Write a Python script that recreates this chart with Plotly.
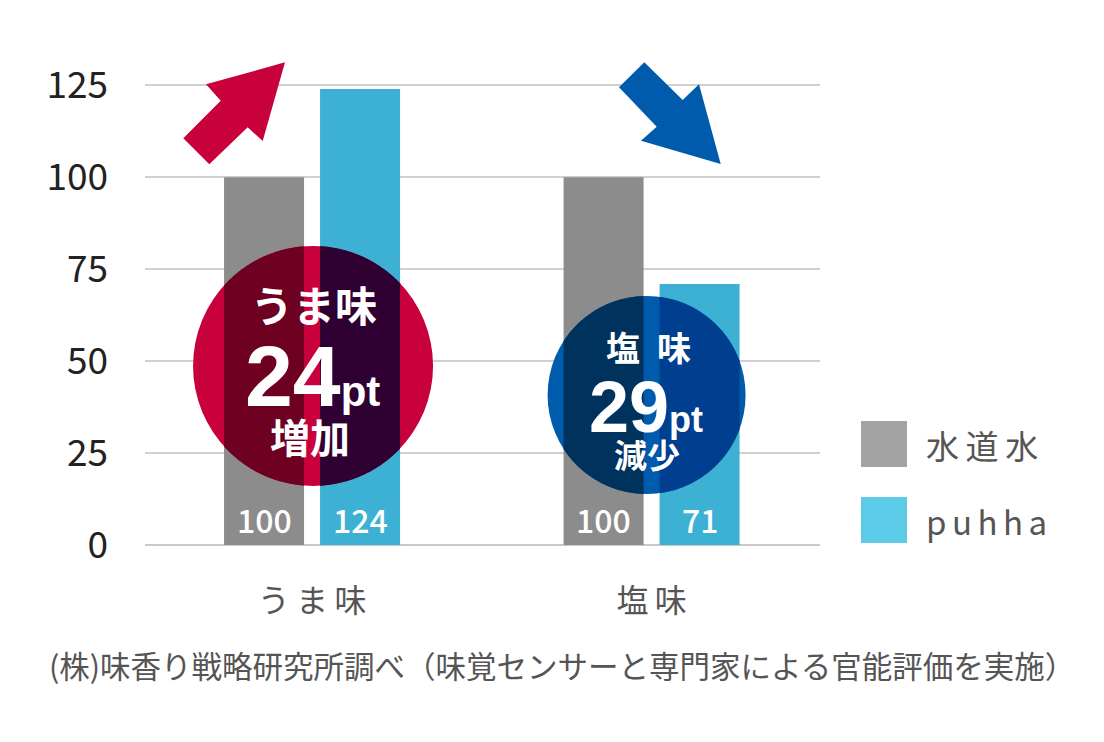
import plotly.graph_objects as go
import numpy as np

# ---------------- data ----------------
categories = ["うま味", "塩味"]
series_names = ["水道水", "puhha"]
tap_water = [100, 100]
puhha = [124, 71]
tap_labels = ["100", "100"]
puhha_labels = ["124", "71"]
y_ticks = [0, 25, 50, 75, 100, 125]
circle_titles = ["うま味", "塩\u2002味"]
circle_values = ["24", "29"]
circle_words = ["増加", "減少"]
circle_centers_y = [48.7, 40.8]   # data units (y value of circle centres)
footnote = "(株)味香り戦略研究所調べ（味覚センサーと専門家による官能評価を実施）"

# ---------------- styles / layout geometry ----------------
W_FIG, H_FIG = 1104, 742
L, R, T, B = 145, 284, 67, 197
PW = W_FIG - L - R
PH = H_FIG - T - B
Y_MAX = 130
X_RANGE = [-0.492, 1.496]
UX = PW / (X_RANGE[1] - X_RANGE[0])   # px per x unit
UY = PH / Y_MAX                       # px per y unit

GRAY = (140, 140, 140)
BLUE = (60, 177, 212)
RED_C = (200, 0, 60)
BLUE_C = (0, 91, 172)
LEG_GRAY = "#A3A3A3"
LEG_BLUE = "#5BCBE8"
TXT = "#555555"

BAR_W_PX = 80
OFFS_PX = [-88, 8]          # left edge offsets from group centre (px)

JP = "Noto Sans CJK JP"
LAT = "Liberation Sans"


def hexc(c):
    return "#%02X%02X%02X" % tuple(int(round(v)) for v in c)


def multiply(a, b):
    return tuple(x * y / 255.0 for x, y in zip(a, b))


def px_x(p):   # image pixel -> paper
    return (p - L) / PW


def px_y(p):
    return (T + PH - p) / PH


fig = go.Figure()
values = [tap_water, puhha]
colors = [GRAY, BLUE]
for s in range(2):
    fig.add_trace(go.Bar(
        x=list(range(len(categories))), y=values[s], name=series_names[s],
        width=BAR_W_PX / UX, offset=OFFS_PX[s] / UX,
        marker=dict(color=hexc(colors[s]), line=dict(width=0)),
        showlegend=False, hoverinfo="skip"))

shapes = []
annotations = []


def clip_poly(poly, x0, x1, y0, y1):
    def clip(pts, inside, inter):
        out = []
        n = len(pts)
        for i in range(n):
            cur, prev = pts[i], pts[i - 1]
            if inside(cur):
                if not inside(prev):
                    out.append(inter(prev, cur))
                out.append(cur)
            elif inside(prev):
                out.append(inter(prev, cur))
        return out

    def ix(xc):
        return lambda p, q: (xc, p[1] + (q[1] - p[1]) * (xc - p[0]) / (q[0] - p[0]))

    def iy(yc):
        return lambda p, q: (p[0] + (q[0] - p[0]) * (yc - p[1]) / (q[1] - p[1]), yc)

    pts = poly
    pts = clip(pts, lambda p: p[0] >= x0, ix(x0))
    if pts:
        pts = clip(pts, lambda p: p[0] <= x1, ix(x1))
    if pts:
        pts = clip(pts, lambda p: p[1] >= y0, iy(y0))
    if pts:
        pts = clip(pts, lambda p: p[1] <= y1, iy(y1))
    return pts


circle_specs = [
    dict(dx=1, r=120, col=RED_C),
    dict(dx=-5, r=99, col=BLUE_C),
]

for i, spec in enumerate(circle_specs):
    cy = circle_centers_y[i]
    r, dx = spec["r"], spec["dx"]
    shapes.append(dict(type="circle", xref="x", yref="y", xsizemode="pixel", ysizemode="pixel",
                       xanchor=i, yanchor=cy, x0=dx - r, x1=dx + r, y0=-r, y1=r,
                       fillcolor=hexc(spec["col"]), line=dict(width=0), layer="above"))
    th = np.linspace(0, 2 * np.pi, 361)[:-1]
    circ = [(dx + r * np.cos(t), r * np.sin(t)) for t in th]
    for s in range(2):
        bx0 = OFFS_PX[s]
        bx1 = OFFS_PX[s] + BAR_W_PX
        by0 = (0 - cy) * UY
        by1 = (values[s][i] - cy) * UY
        pts = clip_poly(circ, bx0, bx1, by0, by1)
        if len(pts) < 3:
            continue
        path = "M " + " L ".join("%.2f,%.2f" % p for p in pts) + " Z"
        shapes.append(dict(type="path", xref="x", yref="y", xsizemode="pixel", ysizemode="pixel",
                           xanchor=i, yanchor=cy, path=path,
                           fillcolor=hexc(multiply(spec["col"], colors[s])),
                           line=dict(width=0), layer="above"))

# arrows (decoration outlines in image pixels, drawn in paper space so they are not clipped)
arrow_red = [(285, 62.3), (206, 84.3), (220.7, 100.7), (183.3, 138.3), (209.3, 164.3),
             (247.7, 127.3), (262.7, 141)]
arrow_blue = [(644.3, 62.3), (619, 87.3), (656.7, 126.7), (641, 140.7), (720.7, 164),
              (699, 84.3), (682.7, 100)]
for outline, col in [(arrow_red, RED_C), (arrow_blue, BLUE_C)]:
    path = "M " + " L ".join("%.5f,%.5f" % (px_x(p[0]), px_y(p[1])) for p in outline) + " Z"
    shapes.append(dict(type="path", xref="paper", yref="paper", path=path, fillcolor=hexc(col),
                       line=dict(width=0), layer="above"))

# circle texts
title_shift = [(2, 62), (-3, 48)]
value_shift = [(0, -10), (-6, -12)]
word_shift = [(-2, -70), (-5, -59)]
title_size = [42, 34]
value_size = [86, 72]
pt_size = [42, 36]
word_size = [40, 33]
for i in range(2):
    cy = circle_centers_y[i]
    annotations.append(dict(x=i, y=cy, xref="x", yref="y", text=circle_titles[i], showarrow=False,
                            xshift=title_shift[i][0], yshift=title_shift[i][1],
                            font=dict(family=JP, size=title_size[i], color="white", weight="bold")))
    annotations.append(dict(x=i, y=cy, xref="x", yref="y",
                            text=circle_values[i] + "<span style='font-size:%dpx'>pt</span>" % pt_size[i],
                            showarrow=False, xshift=value_shift[i][0], yshift=value_shift[i][1],
                            font=dict(family=LAT, size=value_size[i], color="white", weight="bold")))
    annotations.append(dict(x=i, y=cy, xref="x", yref="y", text=circle_words[i], showarrow=False,
                            xshift=word_shift[i][0], yshift=word_shift[i][1],
                            font=dict(family=JP, size=word_size[i], color="white", weight="bold")))

# bar value labels
bar_labels = [tap_labels, puhha_labels]
for s in range(2):
    for i in range(2):
        annotations.append(dict(x=i + (OFFS_PX[s] + BAR_W_PX / 2) / UX, y=0, xref="x", yref="y",
                                text=bar_labels[s][i], showarrow=False, yshift=26,
                                font=dict(family=JP, size=32, color="white", weight=500)))

# legend
leg_boxes = [(421, 467, LEG_GRAY), (497, 543, LEG_BLUE)]
leg_texts = ["\u2009".join(series_names[0]), "\u2006".join(series_names[1])]
for k, (ya, yb, col) in enumerate(leg_boxes):
    shapes.append(dict(type="rect", xref="paper", yref="paper", x0=px_x(861), x1=px_x(907),
                       y0=px_y(yb), y1=px_y(ya), fillcolor=col, line=dict(width=0), layer="above"))
    annotations.append(dict(x=px_x(924), y=px_y((ya + yb) / 2 + 1), xref="paper", yref="paper",
                            xanchor="left", yanchor="middle", text=leg_texts[k], showarrow=False,
                            font=dict(family=JP, size=33, color=TXT)))

# footnote
annotations.append(dict(x=px_x(562), y=px_y(665), xref="paper", yref="paper", text=footnote,
                        showarrow=False, xanchor="center", yanchor="middle",
                        font=dict(family=JP, size=30.5, color=TXT)))

fig.update_layout(
    width=W_FIG, height=H_FIG, autosize=False,
    margin=dict(l=L, r=R, t=T, b=B, pad=0),
    paper_bgcolor="white", plot_bgcolor="white",
    barmode="overlay", showlegend=False,
    shapes=shapes, annotations=annotations,
    xaxis=dict(type="linear", range=X_RANGE, tickvals=list(range(len(categories))),
               ticktext=["\u2009".join(c) for c in categories], showgrid=False, zeroline=False,
               showline=False, ticks="", ticklabelstandoff=34,
               tickfont=dict(family=JP, size=32, color=TXT), fixedrange=True),
    yaxis=dict(range=[0, Y_MAX], tickvals=y_ticks, ticktext=[str(v) for v in y_ticks],
               showgrid=True, gridcolor="#D0D0D0", gridwidth=2,
               zeroline=True, zerolinecolor="#C8C8C8", zerolinewidth=2,
               showline=False, ticks="", ticklabelstandoff=36,
               tickfont=dict(family=JP, size=37, color="#222222"), fixedrange=True),
)

fig.write_html("out.html", config={"displayModeBar": False},
               post_script="document.body.style.margin='0';")
